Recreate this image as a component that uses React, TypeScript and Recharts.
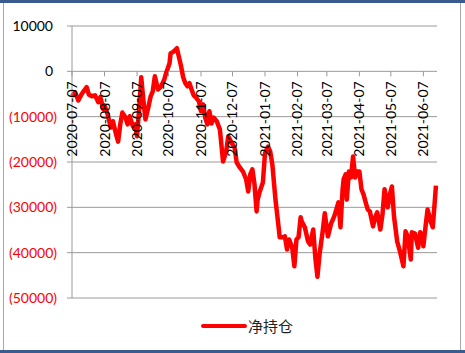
import { CartesianGrid, Legend, Line, LineChart, XAxis, YAxis } from "recharts";

// days counted from START_DATE
const START_DATE = "2020-07-07";
const dayOffsets = [
  0, 3, 6, 9, 11, 14, 16, 19, 22, 25, 27, 30, 31, 34, 37, 39, 42, 44, 46, 48,
  51, 53, 55, 58, 60, 62, 64, 66, 68, 70, 73, 75, 77, 79, 82, 85, 88, 90, 93, 94,
  96, 98, 100, 102, 104, 106, 108, 110, 112, 114, 116, 118, 121, 123, 125, 127, 129, 131, 133, 135,
  138, 141, 144, 147, 149, 152, 155, 157, 160, 163, 166, 168, 170, 172, 174, 176, 177, 179, 182, 184,
  186, 187, 189, 191, 194, 197, 198, 201, 203, 205, 207, 210, 212, 214, 216, 218, 219, 222, 225, 227,
  230, 232, 234, 236, 239, 241, 244, 247, 250, 252, 254, 256, 258, 259, 261, 262, 264, 266, 268, 270,
  272, 274, 276, 278, 280, 282, 284, 287, 289, 291, 294, 296, 298, 301, 303, 305, 307, 310, 313, 316,
  318, 320, 323, 324, 327, 330, 332, 334, 335, 337, 339, 342, 344, 347,
];
const netPositions = [
  -5500, -4600, -6400, -5100, -4400, -3500, -5100, -5500, -5300, -6800, -5700, -8400, -7500, -9500, -12400, -11000, -13900, -15500, -11700, -9100,
  -10200, -11700, -9900, -12100, -11700, -14300, -8400, -1300, -6200, -10600, -7700, -5500, -4400, -1100, -4000, -3300, -1800, -200, 1800, 4000,
  4200, 4600, 5100, 3100, 1100, -1300, -2600, -3300, -2600, -4000, -5300, -5700, -6600, -8800, -7300, -10200, -11700, -8800, -11500, -10200,
  -11000, -12800, -19900, -17700, -14300, -15700, -16800, -20100, -21200, -22100, -23800, -26500, -22700, -21600, -24900, -30900, -28300, -26500, -24500, -18100,
  -17000, -16600, -17700, -20500, -28300, -34400, -36600, -36600, -36400, -39300, -37100, -38900, -43000, -37100, -36600, -32200, -33100, -34400, -37500, -38200,
  -34900, -41100, -45300, -40400, -35300, -31300, -36400, -33600, -32000, -30500, -28900, -34400, -26000, -23800, -22700, -28300, -22100, -23400, -18800, -23400,
  -22100, -22100, -26000, -27200, -28900, -30500, -30900, -34200, -32200, -31100, -34900, -31600, -26000, -30000, -27200, -25400, -32000, -37500, -40000, -43000,
  -35300, -36400, -41500, -35500, -35800, -38900, -35500, -36200, -38600, -34400, -30500, -33100, -34400, -25200,
];
const tickLabels = [
  "2020-07-07", "2020-08-07", "2020-09-07", "2020-10-07", "2020-11-07", "2020-12-07",
  "2021-01-07", "2021-02-07", "2021-03-07", "2021-04-07", "2021-05-07", "2021-06-07",
];
const yTicks = [10000, 0, -10000, -20000, -30000, -40000, -50000];
const SERIES_NAME = "净持仓";

const WIDTH = 465;
const HEIGHT = 353;
const X_AXIS_H = 20;
const MARGIN = { top: 26, right: 28, bottom: 55 - X_AXIS_H, left: 0 };
const Y_MIN = -50000;
const Y_MAX = 10000;
const X_MAX = 348;
const PLOT_H = HEIGHT - MARGIN.top - MARGIN.bottom - X_AXIS_H;
// the category axis crosses the value axis at 0
const ZERO_Y = MARGIN.top + (PLOT_H * Y_MAX) / (Y_MAX - Y_MIN);
const FONT = "Lato, 'Liberation Sans', sans-serif";
const GRID = "#9a9a9a";
const RED = "#ff0000";

const dayOf = (d: string) => Math.round((Date.parse(d) - Date.parse(START_DATE)) / 86400000);
const xTicks = tickLabels.map(dayOf);
const chartData = dayOffsets.map((day, i) => ({ day, value: netPositions[i] }));

const DateTick = (props: any) => {
  const { x, payload } = props;
  const i = xTicks.indexOf(payload.value);
  const tx = x + 5;
  const ty = ZERO_Y + 10;
  return (
    <g>
      <line x1={x} x2={x} y1={ZERO_Y} y2={ZERO_Y + 5} stroke={GRID} />
      <text
        x={tx}
        y={ty}
        transform={`rotate(-90, ${tx}, ${ty})`}
        textAnchor="end"
        fontFamily={FONT}
        fontSize={14}
        fill="#000"
      >
        {tickLabels[i]}
      </text>
    </g>
  );
};

const ValueTick = (props: any) => {
  const { x, y, payload } = props;
  const v = payload.value as number;
  const neg = v < 0;
  return (
    <text
      x={neg ? x : x - 4}
      y={y}
      dy={5}
      textAnchor="end"
      fontFamily={FONT}
      fontSize={14}
      fill={neg ? RED : "#000"}
    >
      {neg ? `(${Math.abs(v)})` : `${v}`}
    </text>
  );
};

const LegendContent = () => (
  <div style={{ display: "flex", alignItems: "center", height: 20 }}>
    <svg width={46} height={10}>
      <line x1={2} x2={44} y1={5} y2={5} stroke={RED} strokeWidth={4} strokeLinecap="round" />
    </svg>
    <span
      style={{
        fontFamily: "'Noto Sans CJK SC', sans-serif",
        fontSize: 15,
        color: "#222",
        marginLeft: 1,
        lineHeight: "20px",
      }}
    >
      {SERIES_NAME}
    </span>
  </div>
);

const App = () => (
  <div style={{ position: "absolute", left: 0, top: 0, width: WIDTH, height: HEIGHT, background: "#fff" }}>
    <div style={{ position: "absolute", left: 0, top: 0, width: WIDTH, height: 3, background: "#3b5a8e" }} />
    <div style={{ position: "absolute", left: 0, top: 350, width: WIDTH, height: 3, background: "#3b5a8e" }} />
    <div
      style={{
        position: "absolute",
        left: 3,
        top: 3,
        width: 458,
        height: 347,
        borderLeft: "1px solid #a8a8a8",
        borderRight: "1px solid #a8a8a8",
        boxSizing: "border-box",
      }}
    />
    <div style={{ position: "absolute", left: 0, top: 0 }}>
      <LineChart width={WIDTH} height={HEIGHT} data={chartData} margin={MARGIN}>
        <CartesianGrid vertical={false} stroke={GRID} />
        <XAxis
          type="number"
          dataKey="day"
          domain={[0, X_MAX]}
          ticks={xTicks}
          interval={0}
          height={X_AXIS_H}
          axisLine={false}
          tickLine={false}
          tick={<DateTick />}
        />
        <YAxis
          type="number"
          domain={[Y_MIN, Y_MAX]}
          ticks={yTicks}
          interval={0}
          width={72}
          axisLine={{ stroke: GRID }}
          tickLine={{ stroke: GRID }}
          tickSize={5}
          tickMargin={10}
          tick={<ValueTick />}
        />
        <Legend
          layout="horizontal"
          verticalAlign="middle"
          align="center"
          wrapperStyle={{ top: 316, left: 201, width: 120 }}
          content={<LegendContent />}
        />
        <Line
          type="linear"
          dataKey="value"
          name={SERIES_NAME}
          stroke={RED}
          strokeWidth={4.5}
          strokeLinejoin="round"
          dot={false}
          isAnimationActive={false}
        />
      </LineChart>
    </div>
  </div>
);

export default App;
